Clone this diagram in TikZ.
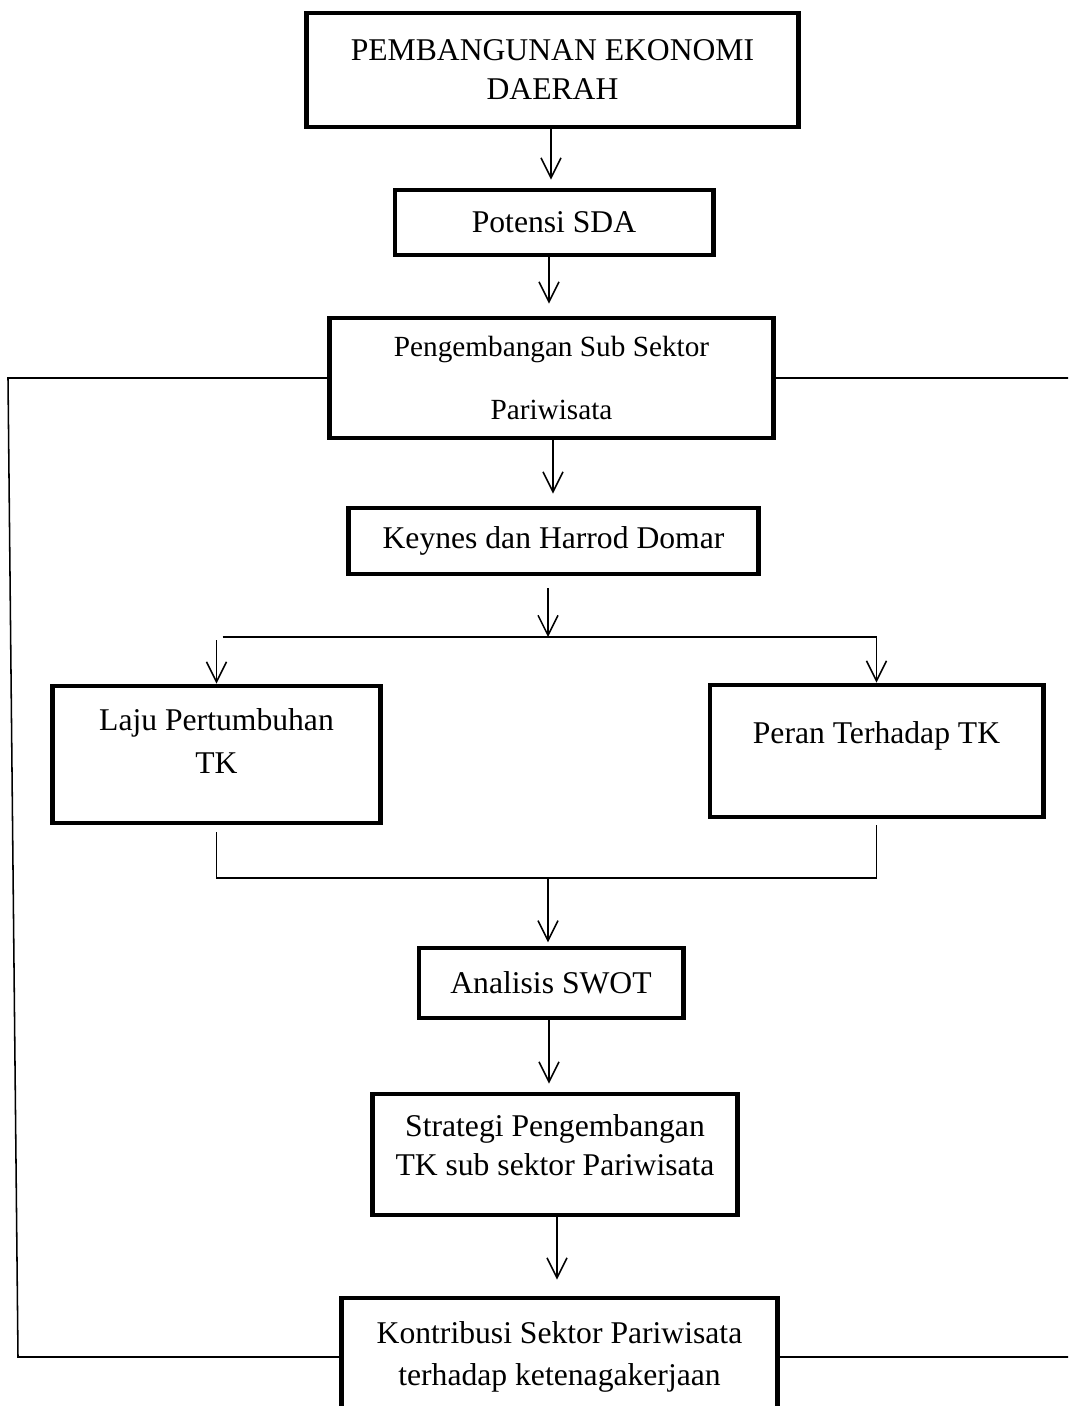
\documentclass[tikz,border=0pt]{standalone}
\usepackage{fontspec}
\setmainfont{Liberation Serif}
\usetikzlibrary{arrows.meta}

\begin{document}
\begin{tikzpicture}[x=0.025cm, y=-0.025cm,
  box/.style={draw, line width=3.5pt, align=center, inner sep=0pt,
    font=\fontsize{22.5}{27.7}\selectfont},
  txt/.style={align=center, inner sep=0pt, font=\fontsize{22.5}{29.9}\selectfont},
  conn/.style={line width=1.1pt},
  arr/.style={conn, -{Straight Barb[length=0.5cm, width=0.5cm]}}]
  \path[use as bounding box, clip] (0,0) rectangle (1068,1406);

  % boxes
  \node[box, minimum width=12.275cm, minimum height=2.85cm] (ekonomi) at (552.5,70) {PEMBANGUNAN EKONOMI\\DAERAH};
  \node[box, minimum width=7.95cm, minimum height=1.625cm] (sda) at (554,222.5) {Potensi SDA};
  \node[box, minimum width=11.075cm, minimum height=3cm, font=\fontsize{20.8}{44.6}\selectfont] (subsektor) at (551.5,378) {Pengembangan Sub Sektor\\Pariwisata};
  \node[box, minimum width=10.225cm, minimum height=1.65cm] (keynes) at (553.5,541) {Keynes dan Harrod Domar};
  \node[box, minimum width=8.175cm, minimum height=3.425cm] (laju) at (216.5,754.5) {};
  \node[txt] (laju-t) at (216.5,741) {Laju Pertumbuhan\\TK};
  \node[box, minimum width=8.325cm, minimum height=3.3cm] (peran) at (876.5,751) {};
  \node[txt] (peran-t) at (876.5,736) {Peran Terhadap TK};
  \node[box, minimum width=6.6cm, minimum height=1.75cm] (swot) at (551,983) {Analisis SWOT};
  \node[box, minimum width=9.1cm, minimum height=3.025cm] (strategi) at (555,1154.5) {};
  \node[txt, font=\fontsize{22.5}{27.7}\selectfont] (strategi-t) at (555,1145.5) {Strategi Pengembangan\\TK sub sektor Pariwisata};
  \node[box, minimum width=10.875cm, minimum height=2.95cm, font=\fontsize{22.5}{29.9}\selectfont] (kontribusi) at (559.5,1357) {Kontribusi Sektor Pariwisata\\terhadap ketenagakerjaan};

  \coordinate (split) at (548,637);
  \coordinate (join) at (548,878);
  \coordinate (kiri-atas) at (8,378);
  \coordinate (kiri-bawah) at (18,1357);
  \coordinate (kanan-atas) at (1080,378);
  \coordinate (kanan-bawah) at (1080,1357);

  % arrows down the middle
  \draw[arr, shorten >=0.2cm] (ekonomi.south -| 551,0) -- (sda.north -| 551,0);
  \draw[arr, shorten >=0.3cm] (sda.south -| 549,0) -- (subsektor.north -| 549,0);
  \draw[arr, shorten >=0.3cm] (subsektor.south -| 553,0) -- (keynes.north -| 553,0);
  \draw[arr, shorten <=0.3cm] (keynes.south -| split) -- (split);

  % branch to the two boxes
  \draw[conn] ([xshift=0.15cm]laju.north |- split) -- (peran.north |- split);
  \draw[arr, shorten <=0.08cm] (laju.north |- split) -- (laju.north);
  \draw[arr] (peran.north |- split) -- (peran.north);

  % join back
  \draw[conn] ([yshift=-0.175cm]laju.south) -- (laju.south |- join) -- (peran.south |- join) -- ([yshift=-0.15cm]peran.south);
  \draw[arr, shorten >=0.08cm] (join) -- (swot.north -| join);
  \draw[arr, shorten >=0.2cm] (swot.south -| 549,0) -- (strategi.north -| 549,0);
  \draw[arr, shorten >=0.4cm] (strategi.south -| 557,0) -- (kontribusi.north -| 557,0);

  % side lines
  \draw[conn] (subsektor.west) -- (kiri-atas) -- (kiri-bawah) -- (kontribusi.west);
  \draw[conn] (subsektor.east) -- (kanan-atas);
  \draw[conn] (kontribusi.east) -- (kanan-bawah);
\end{tikzpicture}
\end{document}
